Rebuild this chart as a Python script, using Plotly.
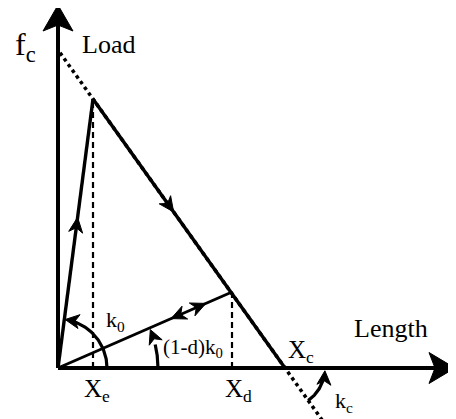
import numpy as np
import plotly.graph_objects as go

# ---- diagram values (data units) ----
origin = (0.0, 0.0)
x_e, f_c = 35.0, 269.0          # peak of loading branch
x_d, f_d = 174.0, 76.0          # unloading point
x_c = 227.0                     # softening line meets the length axis
dotted_ext = (2.0, 264.0)       # x-extent of the dotted softening line
axis_x_max, axis_y_max = 397.0, 363.0

labels = ["f<sub>c</sub>", "Load", "Length", "X<sub>c</sub>", "X<sub>e</sub>",
          "X<sub>d</sub>", "k<sub>0</sub>", "(1-d)k<sub>0</sub>", "k<sub>c</sub>"]
label_pos = [(-33, 322), (50, 324), (333, 40), (243, 17), (39, -22),
             (180, -22), (57, 47), (135, 20), (286, -34)]
label_size = [32, 26, 26, 25, 25, 25, 22, 21, 22]

FONT = "Liberation Serif, Times New Roman, serif"
BLACK = "#000"

fig = go.Figure()


def line(xs, ys, width=3, dash=None):
    fig.add_trace(go.Scatter(x=xs, y=ys, mode="lines",
                             line=dict(color=BLACK, width=width, dash=dash),
                             hoverinfo="skip", showlegend=False))


def head(tip, ang, L, W, notch):
    d = np.array([np.cos(ang), np.sin(ang)])
    n = np.array([-d[1], d[0]])
    tip = np.array(tip, float)
    back = tip - L * d
    left = back + W / 2 * n
    right = back - W / 2 * n
    npt = tip - (L - notch) * d
    pts = [tip, left, npt, right, tip]
    fig.add_trace(go.Scatter(x=[p[0] for p in pts], y=[p[1] for p in pts],
                             mode="lines", fill="toself", fillcolor=BLACK,
                             line=dict(color=BLACK, width=1),
                             hoverinfo="skip", showlegend=False))


def head_on_segment(p0, p1, t, L=15, W=14, notch=4.5):
    p0 = np.array(p0, float); p1 = np.array(p1, float)
    tip = p0 + t * (p1 - p0)
    ang = np.arctan2(*(p1 - p0)[::-1])
    head(tip, ang, L, W, notch)


def arc(center, r, a0, a1, width=3.2, L=14, W=14):
    sgn = np.sign(a1 - a0)
    end = np.radians(a1)
    back_a = np.degrees(end) - 9 * sgn
    a = np.radians(np.linspace(a0, back_a, 60))
    line(center[0] + r * np.cos(a), center[1] + r * np.sin(a), width)
    tip = (center[0] + r * np.cos(end), center[1] + r * np.sin(end))
    tang = end + np.pi / 2 * sgn
    head(tip, tang, L, W, 4)


# axes
line([0, 0], [0, axis_y_max - 15], width=4)
line([0, axis_x_max - 15], [0, 0], width=4)
head((0, axis_y_max), np.pi / 2, 26, 30, 6)
head((axis_x_max, 0), 0.0, 26, 31, 6)

# dotted softening line
slope = -f_c / (x_c - x_e)
line([dotted_ext[0], dotted_ext[1]],
     [f_c + slope * (dotted_ext[0] - x_e), slope * (dotted_ext[1] - x_c)],
     width=3.5, dash="3.5px,3.5px")

# dashed verticals
line([x_e, x_e], [0, f_c], width=2.2, dash="6px,4px")
line([x_d, x_d], [0, f_d], width=2.2, dash="6px,4px")

# loading / softening / unloading paths
line([0, x_e], [0, f_c], width=3.4)
line([x_e, x_c], [f_c, 0], width=3.4)
line([0, x_d], [0, f_d], width=3)

head_on_segment((0, 0), (x_e, f_c), 0.56)
head_on_segment((x_e, f_c), (x_c, 0), 0.42)
head_on_segment((x_d, f_d), (0, 0), 0.35)
head_on_segment((0, 0), (x_d, f_d), 0.85)

# angle arcs
ang_k0 = np.degrees(np.arctan2(f_c, x_e))
ang_kd = np.degrees(np.arctan2(f_d, x_d))
ang_kc = np.degrees(np.arctan2(slope, 1))
arc((0, 0), 49, 0, ang_k0 - 1)
arc((0, 0), 100, 0, ang_kd - 1)
arc((x_c, 0), 40, ang_kc, -4)

for txt, (lx, ly), sz in zip(labels, label_pos, label_size):
    fig.add_annotation(x=lx, y=ly, text=txt, showarrow=False,
                       font=dict(family=FONT, size=sz, color=BLACK),
                       xanchor="center", yanchor="middle")

# page body has an 8px margin: the figure occupies window pixels 8..456 / 8..419
fig.update_layout(
    width=448, height=411, margin=dict(l=0, r=0, t=0, b=0),
    paper_bgcolor="white", plot_bgcolor="white", autosize=False,
    xaxis=dict(range=[-50, 398], visible=False, fixedrange=True),
    yaxis=dict(range=[-51, 360], visible=False, fixedrange=True),
)
fig.write_html("out.html")
